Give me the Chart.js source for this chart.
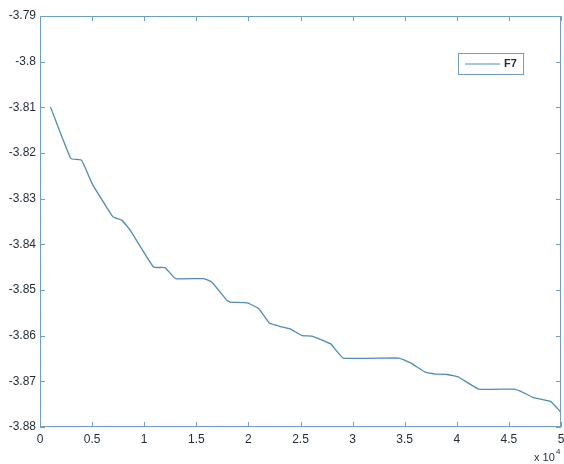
<!DOCTYPE html>
<html>
<head>
<meta charset="utf-8">
<script src="https://cdn.jsdelivr.net/npm/chart.js@4/dist/chart.umd.min.js"></script>
<style>
  html, body { margin: 0; padding: 0; background: #fff; }
  #wrap { width: 564px; height: 464px; }
</style>
</head>
<body>
<div id="wrap"><canvas id="chart"></canvas></div>
<script>
// x in units of 1e4 evaluations
var xVals = [0.1, 0.295, 0.40, 0.50, 0.70, 0.785, 0.865, 1.09, 1.20, 1.30, 1.57, 1.65, 1.795, 1.83,
  1.99, 2.10, 2.205, 2.31, 2.40, 2.516, 2.61, 2.79, 2.91, 3.445, 3.56, 3.70, 3.80, 3.91, 4.02,
  4.21, 4.55, 4.615, 4.73, 4.90, 5.0];
var f7 = [-3.8099, -3.8212, -3.8216, -3.8267, -3.834, -3.8347, -3.8369, -3.845, -3.8451, -3.8475,
  -3.8475, -3.8483, -3.8523, -3.8527, -3.8528, -3.8541, -3.8573, -3.858, -3.8585, -3.86, -3.8601,
  -3.8618, -3.8649, -3.8649, -3.866, -3.868, -3.8684, -3.8685, -3.8691, -3.8717, -3.8717, -3.8722,
  -3.8735, -3.8744, -3.8768];
var seriesName = 'F7';
var xTicks = [0, 0.5, 1, 1.5, 2, 2.5, 3, 3.5, 4, 4.5, 5];
var yTicks = [-3.88, -3.87, -3.86, -3.85, -3.84, -3.83, -3.82, -3.81, -3.8, -3.79];

var axisColor = '#6fa0c2';
var textColor = '#1f2b36';
var lineColor = '#4f8db3';

var points = xVals.map(function(x, i){ return {x: x, y: f7[i]}; });

// matlab style box, inward ticks, legend and exponent label
var matlabBox = {
  id: 'matlabBox',
  afterDatasetsDraw: function(chart){
    var ctx = chart.ctx, a = chart.chartArea;
    var xs = chart.scales.x, ys = chart.scales.y;
    ctx.save();
    ctx.strokeStyle = axisColor;
    ctx.lineWidth = 1;
    ctx.strokeRect(a.left + 0.5, a.top + 0.5, a.right - a.left - 1, a.bottom - a.top - 1);
    ctx.beginPath();
    xTicks.forEach(function(v){
      var px = Math.round(xs.getPixelForValue(v)) + 0.5;
      ctx.moveTo(px, a.bottom); ctx.lineTo(px, a.bottom - 5);
      ctx.moveTo(px, a.top); ctx.lineTo(px, a.top + 5);
    });
    yTicks.forEach(function(v){
      var py = Math.round(ys.getPixelForValue(v)) + 0.5;
      ctx.moveTo(a.left, py); ctx.lineTo(a.left + 5, py);
      ctx.moveTo(a.right, py); ctx.lineTo(a.right - 5, py);
    });
    ctx.stroke();

    // legend
    ctx.fillStyle = '#fff';
    ctx.fillRect(458, 53, 65, 21);
    ctx.strokeStyle = axisColor;
    ctx.strokeRect(458.5, 53.5, 65, 21);
    ctx.strokeStyle = lineColor;
    ctx.lineWidth = 1.2;
    ctx.beginPath();
    ctx.moveTo(465, 64); ctx.lineTo(500, 64);
    ctx.stroke();
    ctx.fillStyle = textColor;
    ctx.font = 'bold 11px "Liberation Sans", Arial, sans-serif';
    ctx.textBaseline = 'middle';
    ctx.fillText(seriesName, 504, 64);

    // x 10^4
    ctx.font = '11px "Liberation Sans", Arial, sans-serif';
    ctx.textBaseline = 'alphabetic';
    ctx.fillText('x 10', 534, 461);
    ctx.font = '8px "Liberation Sans", Arial, sans-serif';
    ctx.fillText('4', 556, 454);
    ctx.restore();
  }
};

new Chart(document.getElementById('chart'), {
  type: 'line',
  data: {
    datasets: [{
      label: seriesName,
      data: points,
      borderColor: lineColor,
      borderWidth: 1.3,
      pointRadius: 0,
      fill: false,
      tension: 0.1
    }]
  },
  options: {
    animation: false,
    responsive: true,
    maintainAspectRatio: false,
    layout: { padding: { top: 16, right: 3, left: 0, bottom: 0 } },
    plugins: { legend: { display: false }, tooltip: { enabled: false } },
    scales: {
      x: {
        type: 'linear',
        min: 0, max: 5,
        afterBuildTicks: function(s){ s.ticks = xTicks.map(function(v){ return {value: v}; }); },
        afterFit: function(s){ s.height = 37; s.paddingRight = 0; s.paddingLeft = 0; },
        grid: { display: false, drawTicks: false },
        border: { display: false },
        ticks: {
          color: textColor, padding: 5,
          font: { size: 12, family: '"Liberation Sans", Arial, sans-serif' },
          maxRotation: 0,
          callback: function(v){ return String(v); }
        }
      },
      y: {
        type: 'linear',
        min: -3.88, max: -3.79,
        afterBuildTicks: function(s){ s.ticks = yTicks.map(function(v){ return {value: v}; }); },
        afterFit: function(s){ s.width = 40; s.paddingTop = 0; s.paddingBottom = 0; },
        grid: { display: false, drawTicks: false },
        border: { display: false },
        ticks: {
          color: textColor, padding: 4,
          font: { size: 12, family: '"Liberation Sans", Arial, sans-serif' },
          callback: function(v){ return String(parseFloat(v.toFixed(2))); }
        }
      }
    }
  },
  plugins: [matlabBox]
});
</script>
</body>
</html>
